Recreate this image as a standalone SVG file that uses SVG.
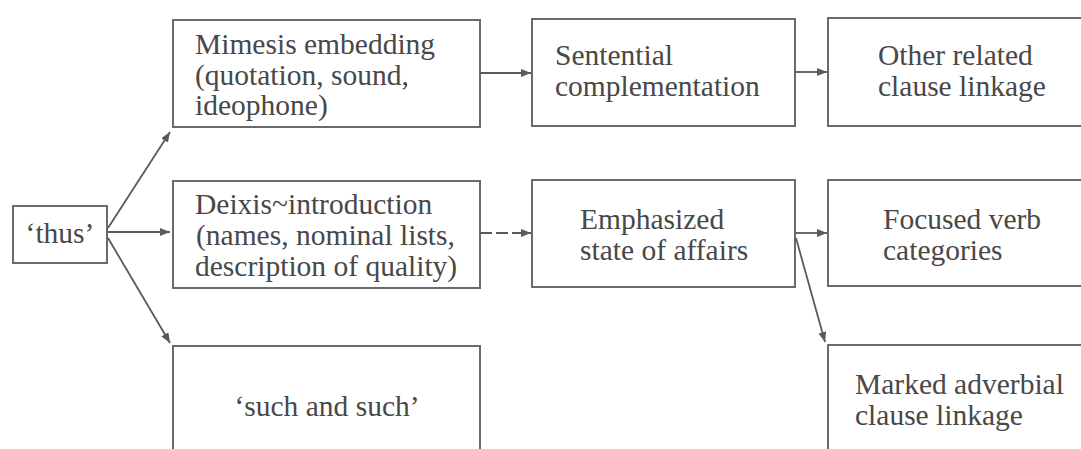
<svg xmlns="http://www.w3.org/2000/svg" width="1081" height="449" viewBox="0 0 1081 449">
<style>
.box{fill:#fff;stroke:#6a6a6a;stroke-width:2}
.t{font-family:"Liberation Serif","Times New Roman",serif;font-size:29.5px;fill:#484848}
.c{text-anchor:middle}
.e{stroke:#5a5a5a;stroke-width:1.8;fill:none}
</style>
<defs>
<marker id="ah" markerUnits="userSpaceOnUse" markerWidth="12" markerHeight="10" refX="10" refY="4" orient="auto">
<path d="M0,0 L10,4 L0,8 Z" fill="#5a5a5a"/>
</marker>
</defs>
<rect width="1081" height="449" fill="#fff"/>
<g id="n-thus"><rect class="box" x="13" y="206" width="94" height="57"/><text class="t c" x="60" y="243">‘thus’</text></g>
<g id="n-mimesis"><rect class="box" x="173" y="20" width="307" height="107"/>
<text class="t" x="195" y="54">Mimesis embedding</text>
<text class="t" x="195" y="85">(quotation, sound,</text>
<text class="t" x="195" y="115">ideophone)</text></g>
<g id="n-deixis"><rect class="box" x="173" y="181" width="307" height="107"/>
<text class="t" x="195" y="214">Deixis~introduction</text>
<text class="t" x="196" y="245">(names, nominal lists,</text>
<text class="t" x="195" y="276">description of quality)</text></g>
<g id="n-such"><rect class="box" x="173" y="346" width="307" height="120"/>
<text class="t c" x="327" y="416">‘such and such’</text></g>
<g id="n-sentential"><rect class="box" x="532" y="19" width="263" height="107"/>
<text class="t" x="555" y="65">Sentential</text>
<text class="t" x="555" y="96">complementation</text></g>
<g id="n-emphasized"><rect class="box" x="532" y="180" width="263" height="107"/>
<text class="t" x="580" y="229">Emphasized</text>
<text class="t" x="580" y="260">state of affairs</text></g>
<g id="n-other"><rect class="box" x="828" y="18" width="270" height="108"/>
<text class="t" x="878" y="65">Other related</text>
<text class="t" x="878" y="96">clause linkage</text></g>
<g id="n-focused"><rect class="box" x="828" y="180" width="270" height="106"/>
<text class="t" x="883" y="229">Focused verb</text>
<text class="t" x="883" y="260">categories</text></g>
<g id="n-marked"><rect class="box" x="828" y="345" width="270" height="120"/>
<text class="t" x="855" y="394">Marked adverbial</text>
<text class="t" x="855" y="425">clause linkage</text></g>
<g id="connectors">
<line class="e" x1="108" y1="228" x2="170" y2="132" marker-end="url(#ah)"/>
<line class="e" x1="108" y1="232" x2="170" y2="232" marker-end="url(#ah)"/>
<line class="e" x1="108" y1="238" x2="170" y2="343" marker-end="url(#ah)"/>
<line class="e" x1="480" y1="73" x2="531" y2="73" marker-end="url(#ah)"/>
<line class="e" x1="795" y1="72" x2="827" y2="72" marker-end="url(#ah)"/>
<line class="e" x1="480" y1="233" x2="531" y2="233" stroke-dasharray="12 4" marker-end="url(#ah)"/>
<line class="e" x1="795" y1="233" x2="827" y2="233" marker-end="url(#ah)"/>
<line class="e" x1="796" y1="238" x2="825" y2="342" marker-end="url(#ah)"/>
</g>
</svg>
